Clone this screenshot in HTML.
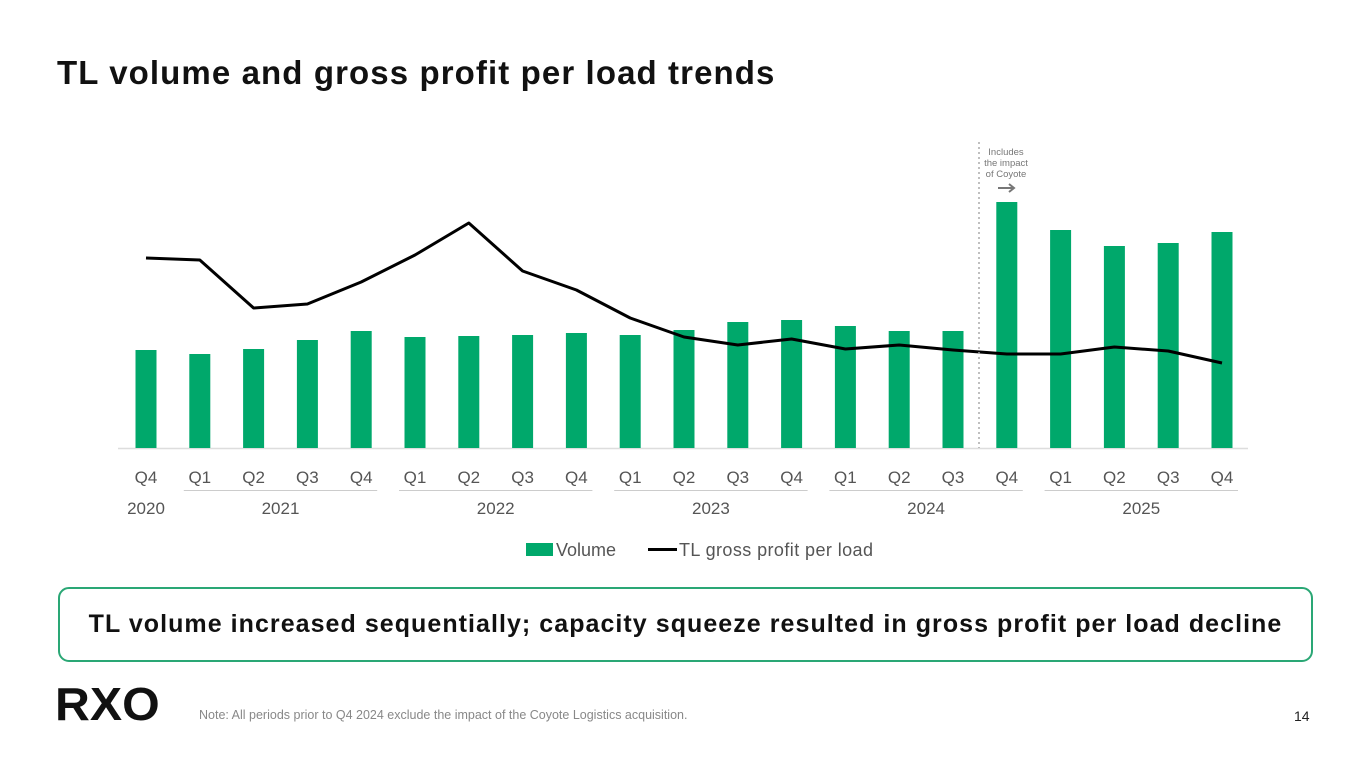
<!DOCTYPE html>
<html><head><meta charset="utf-8"><style>
body{margin:0;width:1365px;height:768px;background:#fff;font-family:"Liberation Sans",sans-serif;overflow:hidden;position:relative}
.title{position:absolute;left:57px;top:54px;font-size:33px;font-weight:bold;color:#111;letter-spacing:1.1px}
.callout{position:absolute;left:58px;top:587px;width:1255px;height:75px;border:2px solid #2aa775;border-radius:11px;box-sizing:border-box;display:flex;align-items:center;justify-content:center;font-size:25px;font-weight:bold;color:#111;letter-spacing:1.05px}
.logo{position:absolute;left:55px;top:677px;font-size:46px;font-weight:900;letter-spacing:0px;color:#111;font-family:"Liberation Sans",sans-serif;transform:scaleX(1.05);transform-origin:left}
.note{position:absolute;left:199px;top:708px;font-size:12.5px;color:#888;letter-spacing:0px}
.pg{position:absolute;left:1294px;top:708px;font-size:14px;color:#222}
svg{position:absolute;left:0;top:0}
</style></head><body>
<div class="title">TL volume and gross profit per load trends</div>
<svg id="chart" width="1365" height="580"></svg>
<div class="callout">TL volume increased sequentially; capacity squeeze resulted in gross profit per load decline</div>
<div class="logo">RXO</div>
<div class="note">Note: All periods prior to Q4 2024 exclude the impact of the Coyote Logistics acquisition.</div>
<div class="pg">14</div>
<script>
const quarters=["Q4","Q1","Q2","Q3","Q4","Q1","Q2","Q3","Q4","Q1","Q2","Q3","Q4","Q1","Q2","Q3","Q4","Q1","Q2","Q3","Q4"];
const years=["2020","2021","2022","2023","2024","2025"];
const yearStart=[0,1,5,9,13,17];
const yearEnd=[0,4,8,12,16,20];
const volume=[98,94,99,108,117,111,112,113,115,113,118,126,128,122,117,117,246,218,202,205,216];
const gpPerLoad=[190,188,140,144,166,193,225,177,158,130,111,103,109,99,103,98,94,94,101,97,85];
const NS="http://www.w3.org/2000/svg";
const svg=document.getElementById('chart');
const x0=146,step=53.8,base=448;
const xs=i=>x0+i*step;
const ys=v=>base-v;
function mk(t,a){const e=document.createElementNS(NS,t);for(const k in a)e.setAttribute(k,a[k]);svg.appendChild(e);return e;}
let ax=mk('line',{x1:118,x2:1248,y1:base+0.5,y2:base+0.5,stroke:'#ddd','stroke-width':1.5});


volume.forEach((v,i)=>{
 const r=mk('rect',{x:xs(i)-10.5,y:ys(v),width:21,height:v,fill:'#00a86b'});
 
 
});
const pl=mk('polyline',{points:gpPerLoad.map((v,i)=>xs(i)+','+ys(v)).join(' '),fill:'none',stroke:'#000','stroke-width':3,'stroke-linejoin':'round'});


quarters.forEach((q,i)=>{
 const t=mk('text',{x:xs(i),y:483,'text-anchor':'middle','font-size':17,fill:'#555'});t.textContent=q;
 
 
});
years.forEach((y,k)=>{
 const a=xs(yearStart[k])-26,b=xs(yearEnd[k])+26;
 if(k>0){const l=mk('line',{x1:a+10,x2:b-10,y1:490.5,y2:490.5,stroke:'#ccc','stroke-width':1});
 
 }
 const t=mk('text',{x:(xs(yearStart[k])+xs(yearEnd[k]))/2,y:514,'text-anchor':'middle','font-size':17,fill:'#555'});t.textContent=y;
 
 
});
const dv=mk('line',{x1:979,x2:979,y1:142,y2:448,stroke:'#aaa','stroke-width':1.5,'stroke-dasharray':'2,3'});


["Includes","the impact","of Coyote"].forEach((s,i)=>{const t=mk('text',{x:1006,y:155+i*11,'text-anchor':'middle','font-size':9.5,fill:'#777'});t.textContent=s;
 
 });
const ar=mk('path',{d:'M998 188 H1013 M1009 184 L1014 188 L1009 192',stroke:'#777','stroke-width':2,fill:'none'});


const lg1=mk('rect',{x:526,y:543,width:27,height:13,fill:'#00a86b'});


const lt1=mk('text',{x:556,y:556,'font-size':18,fill:'#555'});lt1.textContent='Volume';


const lg2=mk('line',{x1:648,x2:677,y1:549.5,y2:549.5,stroke:'#000','stroke-width':3});


const lt2=mk('text',{x:679,y:556,'font-size':18,fill:'#555','textLength':194});lt2.textContent='TL gross profit per load';


</script>
</body></html>
